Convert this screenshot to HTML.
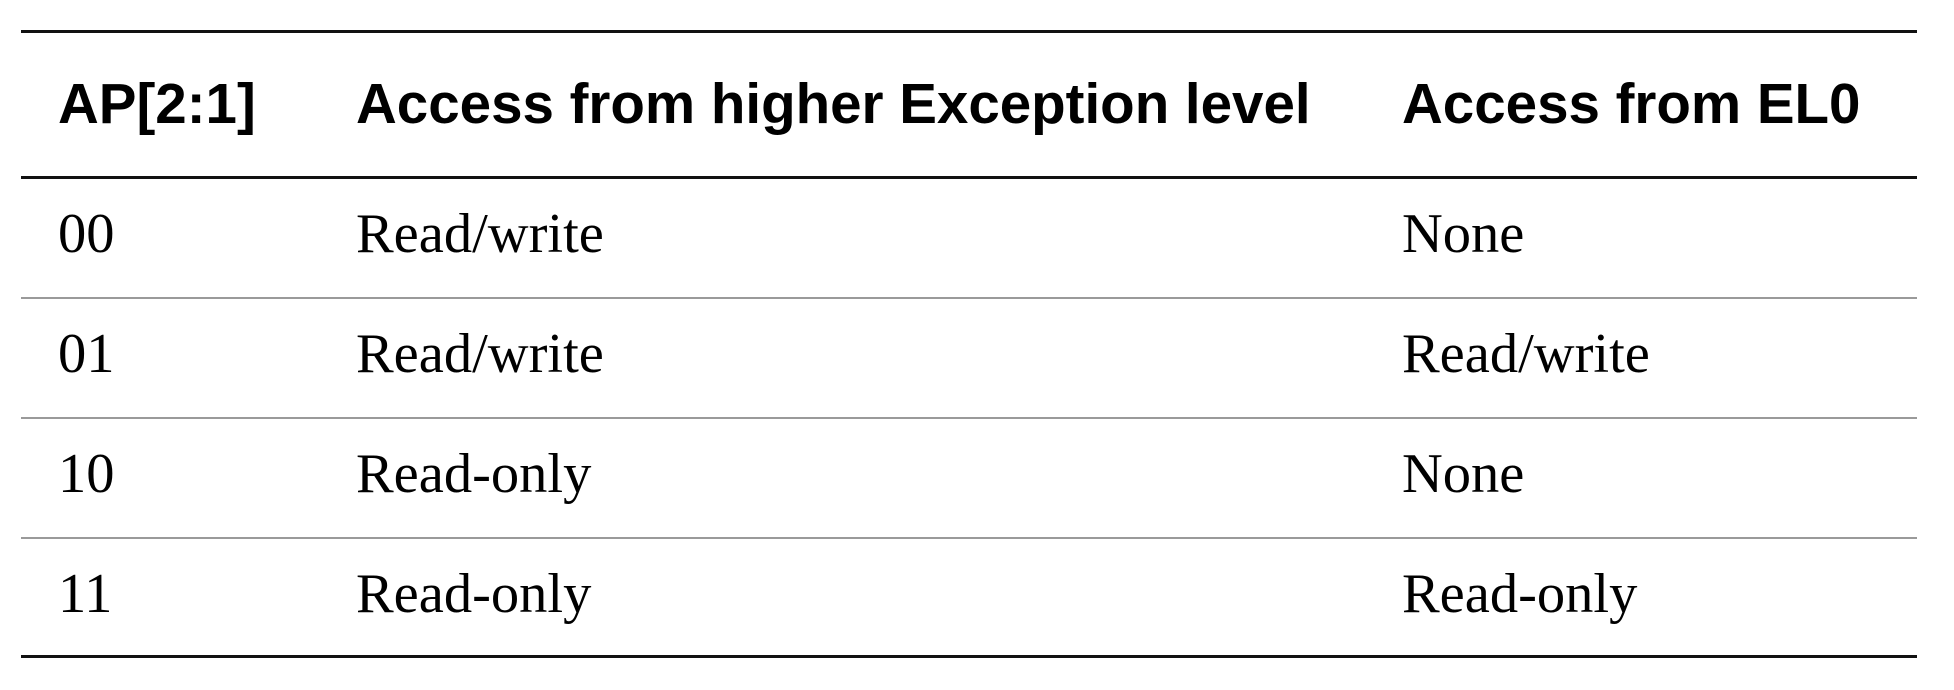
<!DOCTYPE html>
<html><head><meta charset="utf-8"><style>
html,body{margin:0;padding:0;background:#fff;}
body{width:1954px;height:690px;position:relative;overflow:hidden;}
.line{position:absolute;left:21px;width:1896px;}
.thick{height:3px;background:#111;}
.thin{height:2px;background:#9a9a9a;}
.t{position:absolute;white-space:nowrap;color:#000;line-height:1;}
.h{font-family:"Liberation Sans",Arial,sans-serif;font-weight:bold;font-size:56.5px;}
.b{font-family:"Liberation Serif","Times New Roman",serif;font-size:56.5px;}
</style></head><body>
<div>
<div class="line thick" style="top:30px"></div>
<div class="line thick" style="top:176px"></div>
<div class="line thin" style="top:297px"></div>
<div class="line thin" style="top:417px"></div>
<div class="line thin" style="top:537px"></div>
<div class="line thick" style="top:655px"></div>

<div class="t h" style="left:58px;top:76px">AP[2:1]</div>
<div class="t h" style="left:356px;top:76px">Access from higher Exception level</div>
<div class="t h" style="left:1402px;top:76px">Access from EL0</div>

<div class="t b" style="left:58px;top:206px">00</div>
<div class="t b" style="left:356px;top:206px">Read/write</div>
<div class="t b" style="left:1402px;top:206px">None</div>

<div class="t b" style="left:58px;top:326px">01</div>
<div class="t b" style="left:356px;top:326px">Read/write</div>
<div class="t b" style="left:1402px;top:326px">Read/write</div>

<div class="t b" style="left:58px;top:446px">10</div>
<div class="t b" style="left:356px;top:446px">Read-only</div>
<div class="t b" style="left:1402px;top:446px">None</div>

<div class="t b" style="left:58px;top:566px">11</div>
<div class="t b" style="left:356px;top:566px">Read-only</div>
<div class="t b" style="left:1402px;top:566px">Read-only</div>
</div>
</body></html>
